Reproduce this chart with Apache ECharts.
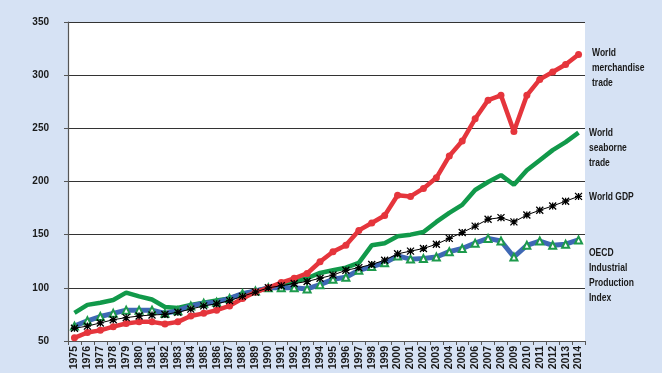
<!DOCTYPE html>
<html><head><meta charset="utf-8">
<script src="https://cdn.jsdelivr.net/npm/echarts@6/dist/echarts.min.js"></script>
<style>html,body{margin:0;padding:0;background:#d6e2f4}#c{width:662px;height:373px}</style>
</head><body><div id="c"></div>
<script>
const years = [];
for (let y = 1975; y <= 2014; y++) years.push(String(y));
const yTicks = [50, 100, 150, 200, 250, 300, 350];
const merchandise = [53,58,60,63.5,66.5,68,68,66,68,73.5,76,79,83,90,96,100,105,109,113.5,124.5,134,140,154,161,168,187,186,193.5,203.5,224,238,259,276.5,281,247,281,296,303,310,319.5];
const seaborne = [76.5,84,86,88.5,95.5,92,89,82,81,84,86,88,90,94,97,100,102,106,109,114,116.5,119,123.5,140,142,148.5,150,152.5,162,170.5,178,192,199.5,206,197,210.5,220,229.5,237,246];
const gdp = [62,64,67,70,72,73.5,74.5,75,77,80,83,85,88,92,96,100,102,104,106,109,112,116.5,119,122,126,132,134.5,137,141,146.5,152,158,164.5,166,162,168.5,173,177,181.5,186];
const oecd = [64,69,73,76,79,79,79,76,78.5,83,85.5,86.5,90,94.5,97,100,100,100,99,103,108,110,116.5,120,123.5,130,127,127.5,129,134,137,142,146.5,144,129,140,144,140,141,145];
const seriesNames = ['World merchandise trade', 'World seaborne trade', 'World GDP', 'OECD Industrial Production Index'];
const labelLines = [['World','merchandise','trade'], ['World','seaborne','trade'], ['World GDP'], ['OECD','Industrial','Production','Index']];

const chart = echarts.init(document.getElementById('c'));
const FONT = '"Liberation Sans", Arial, sans-serif';
const labelPos = [[592, 45], [589, 125], [589, 189], [589, 245]];
const graphics = labelLines.map((lines, i) => ({
  type: 'text', x: labelPos[i][0], y: labelPos[i][1], scaleX: 0.74, originX: 0,
  style: { text: lines.join('\n'), fill: '#1a1a1a', font: 'bold 11.5px ' + FONT, lineHeight: 15.2 }
}));
chart.setOption({
  backgroundColor: '#d6e2f4',
  animation: false,
  graphic: graphics,
  grid: { left: 68, right: 77, top: 22, bottom: 32, show: true, backgroundColor: '#ffffff', borderWidth: 0 },
  xAxis: {
    type: 'category', data: years, boundaryGap: true,
    axisLine: { lineStyle: { color: '#555', width: 1.2 } },
    axisTick: { show: true, length: 4, lineStyle: { color: '#555' } },
    axisLabel: { rotate: 90, interval: 0, color: '#1a1a1a', fontFamily: FONT, fontWeight: 'bold', fontSize: 10.5, margin: 5 }
  },
  yAxis: {
    type: 'value', min: yTicks[0], max: yTicks[yTicks.length - 1], interval: 50,
    axisLine: { show: true, lineStyle: { color: '#555', width: 1.2 } },
    axisTick: { show: true, length: 4, lineStyle: { color: '#555' } },
    splitLine: { lineStyle: { color: '#333', width: 1.2 } },
    axisLabel: { color: '#1a1a1a', fontFamily: FONT, fontWeight: 'bold', fontSize: 10, margin: 19 }
  },
  series: [
    { name: seriesNames[1], type: 'line', data: seaborne, z: 2, showSymbol: false, symbol: 'none',
      lineStyle: { color: '#11994a', width: 4.5 }, itemStyle: { color: '#11994a' } },
    { name: seriesNames[3], type: 'line', data: oecd, z: 3, symbol: 'triangle', symbolSize: 7,
      lineStyle: { color: '#3e68b4', width: 5 }, itemStyle: { color: '#ffffff', borderColor: '#1d9a4c', borderWidth: 2 } },
    { name: seriesNames[0], type: 'line', data: merchandise, z: 4, symbol: 'circle', symbolSize: 7,
      lineStyle: { color: '#e5353c', width: 4.5 }, itemStyle: { color: '#e5353c' } },
    { name: seriesNames[2], type: 'line', data: gdp, z: 5,
      symbol: 'path://M0,0L10,10M10,0L0,10M5,0L5,10M0,5L10,5', symbolSize: 7,
      lineStyle: { color: '#000', width: 1 }, itemStyle: { color: '#000', borderColor: '#000', borderWidth: 1.3 } }
  ]
});
</script></body></html>
